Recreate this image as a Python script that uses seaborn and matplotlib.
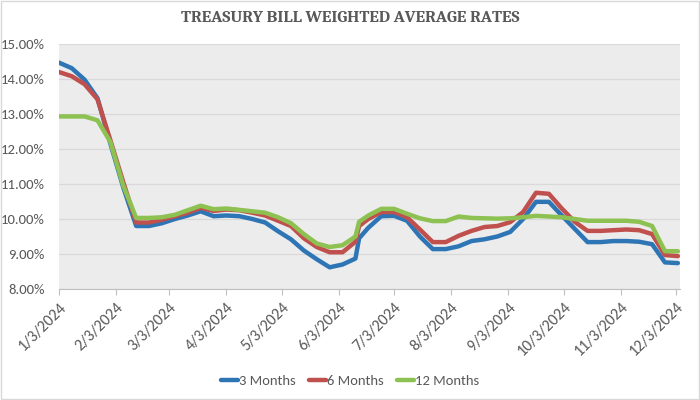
import matplotlib
matplotlib.use('Agg')
import matplotlib.pyplot as plt
import matplotlib.ticker as mticker
import matplotlib.patches as mpatches
import seaborn as sns
import pandas as pd

# ---- data ----
dates = list(pd.date_range('2024-01-03', periods=49, freq='7D'))
dates.insert(24, pd.Timestamp('2024-06-14'))

three_m = [14.47, 14.31, 13.98, 13.45, 12.15, 10.9, 9.8, 9.8, 9.88, 10.0,
           10.1, 10.22, 10.08, 10.1, 10.08, 10.0, 9.9, 9.65, 9.42, 9.1,
           8.85, 8.62, 8.7, 8.87, 9.45, 9.75, 10.08, 10.09, 9.95, 9.5,
           9.14, 9.14, 9.22, 9.37, 9.42, 9.5, 9.63, 10.0, 10.49, 10.49,
           10.1, 9.72, 9.34, 9.34, 9.37, 9.37, 9.35, 9.28, 8.76, 8.74]
six_m = [14.2, 14.08, 13.85, 13.42, 12.25, 11.05, 9.9, 9.9, 9.98, 10.08,
         10.18, 10.32, 10.23, 10.27, 10.25, 10.18, 10.1, 9.95, 9.8, 9.45,
         9.2, 9.05, 9.05, 9.35, 9.8, 10.0, 10.2, 10.2, 10.05, 9.7,
         9.34, 9.34, 9.52, 9.66, 9.77, 9.8, 9.91, 10.2, 10.75, 10.72,
         10.3, 9.92, 9.66, 9.66, 9.68, 9.7, 9.68, 9.57, 8.97, 8.94]
twelve_m = [12.93, 12.93, 12.93, 12.82, 12.2, 10.95, 10.03, 10.03, 10.05, 10.12,
            10.25, 10.38, 10.28, 10.3, 10.26, 10.22, 10.18, 10.05, 9.88, 9.57,
            9.3, 9.2, 9.25, 9.5, 9.92, 10.1, 10.29, 10.29, 10.15, 10.02,
            9.94, 9.94, 10.07, 10.03, 10.02, 10.01, 10.02, 10.05, 10.09, 10.07,
            10.05, 10.0, 9.95, 9.95, 9.95, 9.95, 9.92, 9.8, 9.08, 9.08]
series_names = ['3 Months', '6 Months', '12 Months']
colors = ['#2E75B6', '#C0504D', '#8DC152']
tick_labels = ['1/3/2024', '2/3/2024', '3/3/2024', '4/3/2024', '5/3/2024', '6/3/2024',
               '7/3/2024', '8/3/2024', '9/3/2024', '10/3/2024', '11/3/2024', '12/3/2024']
y_ticks = [8, 9, 10, 11, 12, 13, 14, 15]
title = 'TREASURY BILL WEIGHTED AVERAGE RATES'

df = pd.concat([
    pd.DataFrame({'date': dates, 'rate': vals, 'series': name})
    for name, vals in zip(series_names, [three_m, six_m, twelve_m])
], ignore_index=True)

sns.set_style('white')
label_font = ['Carlito', 'Archivo Narrow', 'DejaVu Sans']
txt_color = '#595959'

fig = plt.figure(figsize=(7, 4), dpi=100)
ax = fig.add_axes([0.084, 0.2775, 0.887, 0.6125])
ax.set_facecolor('#ECECEC')

sns.lineplot(data=df, x='date', y='rate', hue='series', hue_order=series_names,
             palette=colors, linewidth=3.2, ax=ax, legend=False, sort=False)

ax.set_ylim(8, 15)
ax.set_yticks(y_ticks)
ax.yaxis.set_major_formatter(mticker.FuncFormatter(lambda v, p: f'{v:.2f}%'))
ax.set_xlim(pd.Timestamp('2024-01-03'), pd.Timestamp('2024-12-05'))
tick_pos = pd.to_datetime(tick_labels, format='%m/%d/%Y')
ax.set_xticks(tick_pos)
ax.set_xticklabels(tick_labels, rotation=45, ha='right', rotation_mode='anchor')
ax.grid(axis='y', color='#D9D9D9', linewidth=0.9)
ax.set_axisbelow(True)
for s in ['top', 'right', 'left']:
    ax.spines[s].set_visible(False)
ax.spines['bottom'].set_color('#BFBFBF')
ax.tick_params(axis='x', length=4, color='#BFBFBF', bottom=True, pad=4)
ax.tick_params(axis='y', length=0, pad=10)
for lab in ax.get_xticklabels():
    lab.set_family(label_font)
    lab.set_fontsize(11.5)
    lab.set_color(txt_color)
for lab in ax.get_yticklabels():
    lab.set_family(label_font)
    lab.set_fontsize(10.5)
    lab.set_color(txt_color)
ax.set_xlabel('')
ax.set_ylabel('')

ttl = fig.text(0.5, 0.955, title, ha='center', va='center', fontsize=14, fontweight='bold',
               color=txt_color, family=['Caladea', 'DejaVu Serif'])
# fit title width to reference extent (~340 px)
fig.canvas.draw()
w = ttl.get_window_extent().width
ttl.set_fontsize(14 * 340.0 / w)

handles = [plt.Line2D([], [], color=c, linewidth=3.2) for c in colors]
leg = fig.legend(handles, series_names, loc='center', bbox_to_anchor=(0.5, 0.047),
                 ncol=3, frameon=False, handlelength=1.15, handletextpad=0.1,
                 columnspacing=0.9, prop={'family': label_font, 'size': 10.5})
for t in leg.get_texts():
    t.set_color(txt_color)

fig.patches.append(mpatches.Rectangle((0.001, 0.002), 0.997, 0.996, transform=fig.transFigure,
                                      fill=False, edgecolor='#D9D9D9', linewidth=1))

fig.savefig('out.png', dpi=100, facecolor='white')
